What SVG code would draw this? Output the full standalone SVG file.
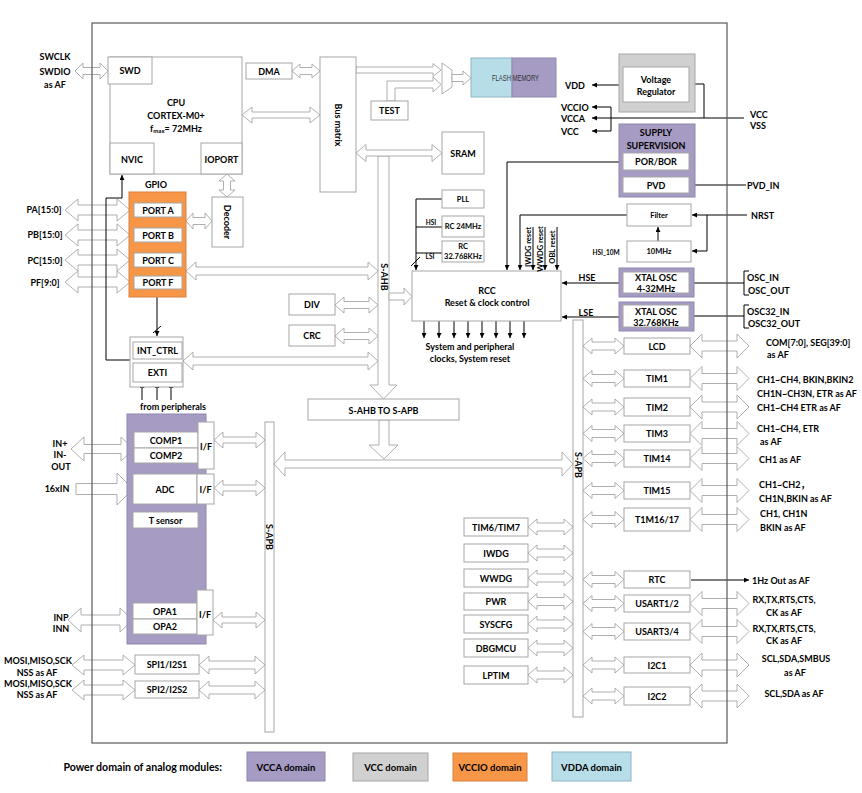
<svg xmlns="http://www.w3.org/2000/svg" width="862" height="793" viewBox="0 0 862 793">
<style>
text{font-family:Lato,"Liberation Sans","Noto Sans CJK SC",sans-serif;font-weight:bold;font-size:9px;fill:#000;}
.c{text-anchor:middle;dominant-baseline:central;}
.s{text-anchor:start;dominant-baseline:central;}
.sm{font-size:7.5px;}
.xs{font-size:6.5px;}
.lg{font-size:9.5px;}
.bx{fill:#fff;stroke:#a6a6a6;stroke-width:1;}
.ha{fill:#fff;stroke:#a6a6a6;stroke-width:0.9;}
.ln{fill:none;stroke:#000;stroke-width:1;}
.la{fill:none;stroke:#000;stroke-width:1;marker-end:url(#ah);}
.pu{fill:#a69bc2;stroke:#8f86ad;stroke-width:1;}
.or{fill:#f79646;stroke:#d98040;stroke-width:1;}
.gy{fill:#d0d0d0;stroke:#a6a6a6;stroke-width:1;}
.bl{fill:#b7dde8;stroke:#8fb4c4;stroke-width:1;}
</style>
<defs>
<marker id="ah" viewBox="0 0 10 10" refX="10" refY="5" markerWidth="5" markerHeight="5" orient="auto" markerUnits="userSpaceOnUse"><path d="M0,0 L10,5 L0,10 z" fill="#000"/></marker>
<polygon id="aL" class="ha" points="583,0 592,-8 592,-4 615,-4 615,-8 624,0 615,8 615,4 592,4 592,8"/>
<polygon id="aR" class="ha" points="690,0 702,-12 702,-5 737,-5 737,-12 749,0 737,12 737,5 702,5 702,12"/>
<polygon id="aP" class="ha" points="528,0 537,-8 537,-4 564,-4 564,-8 573,0 564,8 564,4 537,4 537,8"/>
<polygon id="aG" class="ha" points="65,0 78,-11 78,-5 117,-5 117,-11 130,0 117,11 117,5 78,5 78,11"/>
</defs>
<rect width="862" height="793" fill="#fff"/>

<g id="connectors">
<polygon class="ha" points="75,71 83,63 83,67.5 100,67.5 100,63 108,71 100,79 100,74.5 83,74.5 83,79"/>
<polygon class="ha" points="292,71 300,64 300,67.5 312,67.5 312,64 320,71 312,78 312,74.5 300,74.5 300,78"/>
<polygon class="ha" points="242,115 252,107 252,112 310,112 310,107 320,115 310,123 310,118 252,118 252,123"/>
<polygon class="ha" points="356,67 433,67 433,63.5 441,70 433,76.5 433,73 356,73"/>
<polygon class="ha" points="387,101 387,81 433,81 433,77 441,84.5 433,92 433,88 395,88 395,101"/>
<polygon class="ha" points="442,63 452,70 452,87 442,94"/>
<polygon class="ha" points="452,74.5 463,74.5 463,71 471,78 463,85 463,81.5 452,81.5"/>
<polygon class="ha" points="378,156 389,156 389,385 397,385 383.5,399 370,385 378,385"/>
<polygon class="ha" points="356,153 366,144.5 366,150 432,150 432,144.5 442,153 432,161.5 432,156 366,156 366,161.5"/>
<polygon class="ha" points="186,271 196,262 196,267 368,267 368,262 378,271 368,280 368,275 196,275 196,280"/>
<polygon class="ha" points="186,221 193,213 193,217.5 205,217.5 205,213 212,221 205,229 205,224.5 193,224.5 193,229"/>
<polygon class="ha" points="227,174 235,181 230.5,181 230.5,190 235,190 227,197 219,190 223.5,190 223.5,181 219,181"/>
<polygon class="ha" points="183,361 193,352 193,357 368,357 368,352 378,361 368,370 368,365 193,365 193,370"/>
<polygon class="ha" points="335,305 344,297 344,301.5 369,301.5 369,297 378,305 369,313 369,308.5 344,308.5 344,313"/>
<polygon class="ha" points="335,336 344,328 344,332.5 369,332.5 369,328 378,336 369,344 369,339.5 344,339.5 344,344"/>
<polygon class="ha" points="389,293 404,293 404,288 412,296.5 404,305 404,300 389,300"/>
<polygon class="ha" points="379,420 389,420 389,445 398,445 384,459 369,445 379,445"/>
<polygon class="ha" points="274,464 285,452 285,460 562,460 562,452 573,464 562,476 562,468 285,468 285,476"/>
<use href="#aG" y="210"/><use href="#aG" y="235"/><use href="#aG" y="260"/><use href="#aG" y="282"/>
<polygon class="ha" points="71,449 84,437 84,444.5 121,444.5 121,437 134,449 121,461 121,453.5 84,453.5 84,461"/>
<polygon class="ha" points="76,483.5 117,483.5 117,473 133,489 117,505 117,494.5 76,494.5"/>
<polygon class="ha" points="214,440 223,432 223,437 256,437 256,432 265,440 256,448 256,443 223,443 223,448"/>
<polygon class="ha" points="214,488 223,480 223,485 256,485 256,480 265,488 256,496 256,491 223,491 223,496"/>
<polygon class="ha" points="213,620 222,612 222,617 256,617 256,612 265,620 256,628 256,623 222,623 222,628"/>
<polygon class="ha" points="68,620 81,608 81,615 120,615 120,608 133,620 120,632 120,625 81,625 81,632"/>
<polygon class="ha" points="72,665 84,655 84,660 123,660 123,655 135,665 123,675 123,670 84,670 84,675"/>
<polygon class="ha" points="199,665 209,656 209,661 255,661 255,656 265,665 255,674 255,669 209,669 209,674"/>
<polygon class="ha" points="72,690 84,680 84,685 123,685 123,680 135,690 123,700 123,695 84,695 84,700"/>
<polygon class="ha" points="199,690 209,681 209,686 255,686 255,681 265,690 255,699 255,694 209,694 209,699"/>
<use href="#aL" y="346"/><use href="#aL" y="378.5"/><use href="#aL" y="407"/><use href="#aL" y="433.5"/><use href="#aL" y="458.5"/><use href="#aL" y="490.5"/><use href="#aL" y="519.5"/><use href="#aL" y="579.5"/><use href="#aL" y="603.5"/><use href="#aL" y="631.5"/><use href="#aL" y="665"/><use href="#aL" y="696"/>
<use href="#aR" y="346"/><use href="#aR" y="378.5"/><use href="#aR" y="407"/><use href="#aR" y="433.5"/><use href="#aR" y="458.5"/><use href="#aR" y="490.5"/><use href="#aR" y="519.5"/><use href="#aR" y="603.5"/><use href="#aR" y="631.5"/><use href="#aR" y="665"/><use href="#aR" y="696"/>
<use href="#aP" y="527"/><use href="#aP" y="553"/><use href="#aP" y="578"/><use href="#aP" y="601.5"/><use href="#aP" y="624"/><use href="#aP" y="648"/><use href="#aP" y="675"/>
<path class="la" d="M130,360 H106 V198 H122 V175"/>
<path class="la" d="M157,297 V336"/>
<path class="ln" d="M153,333 L161,326"/>
<path class="la" d="M142,400 V383"/><path class="la" d="M157,400 V383"/><path class="la" d="M171,400 V383"/>
<path class="la" d="M166,512 V505"/>
<path class="la" d="M442,199 H416 V270"/>
<path class="ln" d="M442,227 H416 M442,253 H416"/>
<path class="ln" d="M411,266 L420,257"/>
<path class="la" d="M623,162 H507 V270"/>
<path class="la" d="M627,215 H520 V270"/>
<path class="la" d="M533,227 V270"/><path class="la" d="M545,227 V270"/><path class="la" d="M557,227 V270"/>
<path class="la" d="M424,321 V338"/><path class="la" d="M439,321 V338"/><path class="la" d="M454,321 V338"/><path class="la" d="M468,321 V338"/><path class="la" d="M482,321 V338"/><path class="la" d="M496,321 V338"/><path class="la" d="M510,321 V338"/><path class="la" d="M524,321 V338"/>
<path class="la" d="M619,283 H562"/>
<path class="la" d="M619,317 H562"/>
<path class="ln" d="M694,283 H744 M694,316 H744"/>
<path class="ln" d="M749,271 H744 V295 H749 M749,305 H744 V328 H749"/>
<path class="la" d="M747,215 H692"/>
<path class="la" d="M707,215 V251 H692"/>
<path class="la" d="M658,241 V227"/>
<path class="la" d="M746,185 H690"/>
<path class="la" d="M623,85 H592"/>
<path class="la" d="M611,107 H592"/>
<path class="la" d="M611,131 H592"/>
<path class="ln" d="M611,107 V131"/>
<path class="la" d="M744,118 H592"/>
<path class="ln" d="M695,84 H704 V118"/>
<path class="la" d="M691,580 H749"/>
</g>

<g id="chip-border"><rect x="92" y="23" width="635" height="720" fill="none" stroke="#595959" stroke-width="1.2"/></g>

<g id="cpu"><rect class="bx" x="110" y="57" width="132" height="117"/>
<text class="c" x="176" y="102">CPU</text><text class="c" x="176" y="115">CORTEX-M0+</text>
<text class="c" x="176" y="128">f<tspan font-size="6" dy="2">max</tspan><tspan dy="-2">= 72MHz</tspan></text></g>
<g id="swd"><rect class="bx" x="108" y="57" width="44" height="27"/><text class="c" x="130" y="70.5">SWD</text></g>
<g id="nvic"><rect class="bx" x="110" y="143" width="44" height="31"/><text class="c" x="132" y="159">NVIC</text></g>
<g id="ioport"><rect class="bx" x="201" y="143" width="41" height="31"/><text class="c" x="221.5" y="159">IOPORT</text></g>
<g id="dma"><rect class="bx" x="246" y="63" width="46" height="16"/><text class="c" x="269" y="71">DMA</text></g>
<g id="busmatrix"><rect class="bx" x="320" y="57" width="36" height="135"/><text class="c" transform="translate(338,125) rotate(90)">Bus matrix</text></g>
<g id="test"><rect class="bx" x="371" y="101" width="37" height="19"/><text class="c" x="389.5" y="110.5">TEST</text></g>
<g id="flash"><rect class="bl" x="471" y="58" width="41" height="39"/><rect class="pu" x="512" y="58" width="44" height="39"/>
<text x="492" y="78" text-anchor="start" dominant-baseline="central" style="font-family:'Liberation Sans',sans-serif;font-weight:normal;font-size:8.5px;fill:#333" textLength="47" lengthAdjust="spacingAndGlyphs">FLASH MEMORY</text></g>
<g id="sram"><rect class="bx" x="442" y="132" width="42" height="42"/><text class="c" x="463" y="153">SRAM</text></g>
<g id="pll"><rect class="bx" x="442" y="190" width="42" height="18"/><text class="c sm" x="463" y="199">PLL</text></g>
<g id="rc24"><rect class="bx" x="442" y="216" width="42" height="21"/><text class="c sm" x="463" y="226.5">RC 24MHz</text></g>
<g id="rc32"><rect class="bx" x="442" y="241" width="42" height="21"/><text class="c sm" x="463" y="246.5">RC</text><text class="c sm" x="463" y="256.5">32.768KHz</text></g>
<g id="rcc"><rect class="bx" x="412" y="271" width="149" height="50"/><text class="c" x="487" y="290">RCC</text><text class="c" x="487" y="302">Reset &amp; clock control</text></g>
<g id="regulator"><rect class="gy" x="619" y="54" width="76" height="58"/><rect class="bx" x="623" y="67" width="66" height="35"/><text class="c" x="656" y="79">Voltage</text><text class="c" x="656" y="91">Regulator</text></g>
<g id="supervision"><rect class="pu" x="619" y="124" width="76" height="73"/><text class="c" x="656" y="132">SUPPLY</text><text class="c" x="656" y="145">SUPERVISION</text>
<rect class="bx" x="623" y="153" width="66" height="17"/><text class="c" x="656" y="161.5">POR/BOR</text>
<rect class="bx" x="623" y="177" width="66" height="16"/><text class="c" x="656" y="185">PVD</text></g>
<g id="filter"><rect class="bx" x="627" y="204" width="64" height="22"/><text class="c sm" x="659" y="215">Filter</text></g>
<g id="hsi10m"><rect class="bx" x="627" y="241" width="64" height="21"/><text class="c sm" x="659" y="251.5">10MHz</text></g>
<g id="hse"><rect class="pu" x="619" y="268" width="75" height="29"/><rect class="bx" x="623" y="272" width="66" height="21"/><text class="c" x="656" y="277">XTAL OSC</text><text class="c" x="656" y="288.5">4-32MHz</text></g>
<g id="lse"><rect class="pu" x="619" y="302" width="75" height="29"/><rect class="bx" x="623" y="305" width="66" height="22"/><text class="c" x="656" y="311">XTAL OSC</text><text class="c" x="656" y="322">32.768KHz</text></g>
<g id="gpio"><text class="c" x="156" y="184">GPIO</text><rect class="or" x="129" y="192" width="57" height="105"/>
<rect class="bx" x="134" y="203" width="48" height="14"/><text class="c" x="158" y="210">PORT A</text>
<rect class="bx" x="134" y="228" width="48" height="14"/><text class="c" x="158" y="235">PORT B</text>
<rect class="bx" x="134" y="253" width="48" height="14"/><text class="c" x="158" y="260">PORT C</text>
<rect class="bx" x="134" y="276" width="48" height="13"/><text class="c" x="158" y="282.5">PORT F</text></g>
<g id="decoder"><rect class="bx" x="212" y="197" width="31" height="50"/><text class="c" transform="translate(227.5,222) rotate(90)">Decoder</text></g>
<g id="exti"><rect class="bx" x="130" y="337" width="53" height="50"/>
<rect class="bx" x="133" y="342" width="49" height="17"/><text class="c" x="157.5" y="350.5">INT_CTRL</text>
<rect class="bx" x="133" y="363" width="49" height="19"/><text class="c" x="157.5" y="372.5">EXTI</text>
<text class="c" x="173" y="406">from peripherals</text></g>
<g id="div"><rect class="bx" x="289" y="294" width="46" height="21"/><text class="c" x="312" y="304.5">DIV</text></g>
<g id="crc"><rect class="bx" x="289" y="325" width="46" height="21"/><text class="c" x="312" y="335.5">CRC</text></g>
<g id="sahb"><text class="c" transform="translate(384,277) rotate(90)">S-AHB</text></g>
<g id="bridge"><rect class="bx" x="308" y="399" width="151" height="21"/><text class="c" x="383.5" y="410">S-AHB TO S-APB</text></g>
<g id="analog"><rect class="pu" x="127" y="414" width="79" height="230"/>
<rect class="bx" x="134" y="432" width="64" height="16"/><text class="c" x="166" y="440">COMP1</text>
<rect class="bx" x="134" y="448" width="64" height="15"/><text class="c" x="166" y="455.5">COMP2</text>
<rect class="bx" x="198" y="422" width="16" height="47"/><text class="c" x="206" y="446">I/F</text>
<rect class="bx" x="133" y="474" width="64" height="30"/><text class="c" x="165" y="489">ADC</text>
<rect class="bx" x="197" y="474" width="17" height="30"/><text class="c" x="205.5" y="489">I/F</text>
<rect class="bx" x="133" y="512" width="65" height="16"/><text class="c" x="165.5" y="520">T sensor</text>
<rect class="bx" x="133" y="603" width="64" height="16"/><text class="c" x="165" y="611">OPA1</text>
<rect class="bx" x="133" y="619" width="64" height="15"/><text class="c" x="165" y="626.5">OPA2</text>
<rect class="bx" x="197" y="590" width="16" height="45"/><text class="c" x="205" y="614">I/F</text></g>
<g id="spi1"><rect class="bx" x="135" y="655" width="64" height="19"/><text class="c" x="167" y="664.5">SPI1/I2S1</text></g>
<g id="spi2"><rect class="bx" x="135" y="681" width="64" height="17"/><text class="c" x="167" y="689.5">SPI2/I2S2</text></g>
<g id="sapb-left"><rect class="bx" x="265" y="422" width="9" height="310"/><text class="c" transform="translate(269.5,537) rotate(90)">S-APB</text></g>
<g id="sapb-right"><rect class="bx" x="573" y="320" width="10" height="397"/><text class="c" transform="translate(578,465) rotate(90)">S-APB</text></g>
<g id="apb-left-peripherals">
<rect class="bx" x="464" y="518" width="64" height="18"/><text class="c" x="496" y="527">TIM6/TIM7</text>
<rect class="bx" x="464" y="544" width="64" height="18"/><text class="c" x="496" y="553">IWDG</text>
<rect class="bx" x="464" y="569" width="64" height="18"/><text class="c" x="496" y="578">WWDG</text>
<rect class="bx" x="464" y="593" width="64" height="17"/><text class="c" x="496" y="601.5">PWR</text>
<rect class="bx" x="464" y="615" width="64" height="18"/><text class="c" x="496" y="624">SYSCFG</text>
<rect class="bx" x="464" y="639" width="64" height="18"/><text class="c" x="496" y="648">DBGMCU</text>
<rect class="bx" x="464" y="666" width="64" height="18"/><text class="c" x="496" y="675">LPTIM</text></g>
<g id="apb-right-peripherals">
<rect class="bx" x="624" y="338" width="66" height="16"/><text class="c" x="657" y="346">LCD</text>
<rect class="bx" x="624" y="370" width="66" height="17"/><text class="c" x="657" y="378.5">TIM1</text>
<rect class="bx" x="624" y="398" width="66" height="18"/><text class="c" x="657" y="407">TIM2</text>
<rect class="bx" x="624" y="425" width="66" height="17"/><text class="c" x="657" y="433.5">TIM3</text>
<rect class="bx" x="624" y="450" width="66" height="17"/><text class="c" x="657" y="458.5">TIM14</text>
<rect class="bx" x="624" y="482" width="66" height="17"/><text class="c" x="657" y="490.5">TIM15</text>
<rect class="bx" x="624" y="508" width="66" height="23"/><text class="c" x="657" y="519.5">T1M16/17</text>
<rect class="bx" x="624" y="571" width="66" height="17"/><text class="c" x="657" y="579.5">RTC</text>
<rect class="bx" x="624" y="595" width="66" height="17"/><text class="c" x="657" y="603.5">USART1/2</text>
<rect class="bx" x="624" y="623" width="66" height="17"/><text class="c" x="657" y="631.5">USART3/4</text>
<rect class="bx" x="624" y="657" width="66" height="16"/><text class="c" x="657" y="665">I2C1</text>
<rect class="bx" x="624" y="687" width="66" height="18"/><text class="c" x="657" y="696">I2C2</text></g>

<g id="pin-labels">
<text class="c" x="55" y="56">SWCLK</text><text class="c" x="55" y="71">SWDIO</text><text class="c" x="55" y="84">as AF</text>
<text class="c" x="44" y="209">PA[15:0]</text><text class="c" x="45" y="234">PB[15:0]</text><text class="c" x="45" y="260">PC[15:0]</text><text class="c" x="45" y="282">PF[9:0]</text>
<text class="c" x="60" y="443">IN+</text><text class="c" x="60" y="454">IN-</text><text class="c" x="61" y="466">OUT</text>
<text class="c" x="57" y="488">16xIN</text>
<text class="c" x="61" y="617">INP</text><text class="c" x="61" y="628">INN</text>
<text class="c" x="38" y="660">MOSI,MISO,SCK</text><text class="c" x="37" y="672">NSS as AF</text>
<text class="c" x="38" y="683">MOSI,MISO,SCK</text><text class="c" x="37" y="694">NSS as AF</text>
<text class="c xs" x="431" y="222">HSI</text><text class="c xs" x="430" y="256">LSI</text>
<text class="c" transform="translate(528,247) rotate(-90)" style="font-size:7.5px">IWDG reset</text>
<text class="c" transform="translate(540,249) rotate(-90)" style="font-size:7.5px">WWDG reset</text>
<text class="c" transform="translate(552,247) rotate(-90)" style="font-size:7.5px">OBL reset</text>
<text class="c" x="470" y="346">System and peripheral</text><text class="c" x="470" y="358">clocks, System reset</text>
<text class="s" x="565" y="85">VDD</text>
<text class="s" x="561" y="107">VCCIO</text><text class="s" x="561" y="118">VCCA</text><text class="s" x="561" y="131">VCC</text>
<text class="s" x="750" y="114">VCC</text><text class="s" x="750" y="125">VSS</text>
<text class="s" x="747" y="185">PVD_IN</text>
<text class="s" x="751" y="215">NRST</text>
<text class="c xs" x="606" y="252">HSI_10M</text>
<text class="c" x="587" y="277">HSE</text><text class="c" x="586" y="312">LSE</text>
<text class="s" x="747" y="277">OSC_IN</text><text class="s" x="748" y="290">OSC_OUT</text>
<text class="s" x="747" y="311">OSC32_IN</text><text class="s" x="748" y="323">OSC32_OUT</text>
<text class="s" x="766" y="342">COM[7:0], SEG[39:0]</text><text class="s" x="767" y="354">as AF</text>
<text class="s" x="757" y="379">CH1~CH4, BKIN,BKIN2</text><text class="s" x="757" y="393">CH1N~CH3N, ETR  as AF</text>
<text class="s" x="757" y="407">CH1~CH4 ETR  as AF</text>
<text class="s" x="757" y="428">CH1~CH4, ETR</text><text class="s" x="760" y="441">as AF</text>
<text class="s" x="759" y="459">CH1 as AF</text>
<text class="s" x="759" y="484">CH1~CH2，</text><text class="s" x="759" y="498">CH1N,BKIN as AF</text>
<text class="s" x="760" y="513">CH1, CH1N</text><text class="s" x="760" y="527">BKIN as AF</text>
<text class="s" x="752" y="580">1Hz Out as AF</text>
<text class="c" x="784" y="599">RX,TX,RTS,CTS,</text><text class="c" x="784" y="612">CK as AF</text>
<text class="c" x="784" y="628">RX,TX,RTS,CTS,</text><text class="c" x="784" y="640">CK as AF</text>
<text class="c" x="796" y="658">SCL,SDA,SMBUS</text><text class="c" x="795" y="672">as AF</text>
<text class="c" x="794" y="693">SCL,SDA as AF</text>
</g>

<g id="legend">
<text x="222" y="767" text-anchor="end" dominant-baseline="central" style="font-size:10.6px">Power domain of analog modules:</text>
<rect class="pu" x="247" y="752" width="78" height="29"/><text class="c lg" x="286" y="767">VCCA domain</text>
<rect class="gy" x="353" y="753" width="75" height="28"/><text class="c lg" x="390.5" y="767">VCC domain</text>
<rect class="or" x="453" y="753" width="74" height="28"/><text class="c lg" x="490" y="767">VCCIO domain</text>
<rect class="bl" x="552" y="752" width="79" height="29"/><text class="c lg" x="591.5" y="767">VDDA domain</text>
</g>
</svg>
